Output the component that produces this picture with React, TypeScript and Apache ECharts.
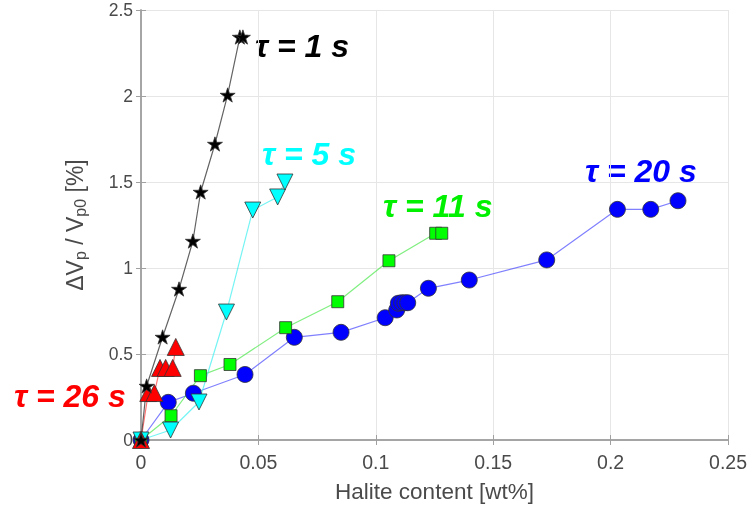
import React, { useEffect, useRef } from "react";
import * as echarts from "echarts";

// τ = 1 s (black stars)
const tau1X = [0, 0.0024, 0.0092, 0.0162, 0.0221, 0.0254, 0.0315, 0.0369, 0.0421, 0.0434];
const tau1Y = [0, 0.314, 0.599, 0.878, 1.157, 1.442, 1.721, 2.006, 2.343, 2.343];
// τ = 5 s (cyan down-triangles)
const tau5X = [0, 0.0126, 0.0247, 0.0364, 0.0476, 0.0582, 0.0613];
const tau5Y = [0, 0.058, 0.221, 0.744, 1.337, 1.413, 1.5];
// τ = 11 s (green squares)
const tau11X = [0, 0.0128, 0.0253, 0.0379, 0.0616, 0.0838, 0.1056, 0.1255, 0.1281];
const tau11Y = [0, 0.141, 0.374, 0.439, 0.653, 0.804, 1.042, 1.202, 1.202];
// τ = 20 s (blue circles)
const tau20X = [0, 0.0116, 0.0223, 0.0443, 0.0653, 0.0852, 0.104, 0.1089, 0.1096, 0.111, 0.1124, 0.1136, 0.1224, 0.1398, 0.1728, 0.2029, 0.2171, 0.2287];
const tau20Y = [0, 0.219, 0.272, 0.381, 0.597, 0.626, 0.711, 0.756, 0.795, 0.798, 0.798, 0.798, 0.882, 0.93, 1.047, 1.341, 1.341, 1.391];
// τ = 26 s (red triangles)
const tau26X = [0, 0.0031, 0.0057, 0.0081, 0.0105, 0.0135, 0.0148];
const tau26Y = [0, 0.273, 0.273, 0.419, 0.419, 0.419, 0.541];

const xTicks = [0, 0.05, 0.1, 0.15, 0.2, 0.25];
const yTicks = [0, 0.5, 1, 1.5, 2, 2.5];

const labels = [
  { text: "τ = 1 s", color: "#000000" },
  { text: "τ = 5 s", color: "#00FFFF" },
  { text: "τ = 11 s", color: "#00F000" },
  { text: "τ = 20 s", color: "#0000FF" },
  { text: "τ = 26 s", color: "#FF0000" },
];

const STAR =
  "path://M0,-10 L2.245,-3.09 L9.511,-3.09 L3.633,1.18 L5.878,8.09 L0,3.82 L-5.878,8.09 L-3.633,1.18 L-9.511,-3.09 L-2.245,-3.09 Z";

const zip = (xs: number[], ys: number[]) => xs.map((x, i) => [x, ys[i]]);

export default function App() {
  const ref = useRef<HTMLDivElement>(null);
  useEffect(() => {
    document.body.style.margin = "0";
    const chart = echarts.init(ref.current!, null, { renderer: "svg" });
    const font = "'Liberation Sans', Arial, sans-serif";
    const axisGray = "#A0A0A0";
    const mk = (
      name: string,
      xs: number[],
      ys: number[],
      symbol: string,
      size: number,
      fill: string,
      line: string,
      rotate = 0
    ) => ({
      name,
      type: "line",
      data: zip(xs, ys),
      symbol,
      symbolSize: size,
      symbolRotate: rotate,
      symbolKeepAspect: true,
      showAllSymbol: true,
      lineStyle: { color: line, width: 1.2 },
      itemStyle: { color: fill, borderColor: "#333333", borderWidth: 0.8 },
      emphasis: { disabled: true },
    });
    const lbl = (i: number, x: number, y: number) => ({
      type: "text",
      left: x,
      top: y,
      style: {
        text: labels[i].text,
        fill: labels[i].color,
        font: `italic bold 32px ${font}`,
      },
    });
    chart.setOption({
      animation: false,
      grid: { left: 141, right: 23, top: 10, bottom: 69 },
      xAxis: [
        {
          type: "value",
          min: 0,
          max: 0.25,
          interval: 0.05,
          name: "Halite content [wt%]",
          nameLocation: "middle",
          nameGap: 40,
          nameTextStyle: { fontFamily: font, fontSize: 22.5, color: "#4A4A4A" },
          axisLine: { show: true, lineStyle: { color: axisGray, width: 1.5 } },
          axisTick: { show: true, inside: true, length: 5, lineStyle: { color: axisGray } },
          axisLabel: {
            margin: 12,
            fontFamily: font,
            fontSize: 19.5,
            color: "#4A4A4A",
            formatter: (v: number) => {
              const t = xTicks.find((k) => Math.abs(k - v) < 1e-9);
              return t === undefined ? "" : String(t);
            },
          },
          splitLine: { show: true, lineStyle: { color: "#E6E6E6", width: 1 } },
        },
        {
          type: "value",
          position: "top",
          min: 0,
          max: 0.25,
          interval: 0.05,
          axisLine: { show: true, lineStyle: { color: axisGray, width: 1.5 } },
          axisTick: { show: true, inside: true, length: 5, lineStyle: { color: axisGray } },
          axisLabel: { show: false },
          splitLine: { show: false },
        },
      ],
      yAxis: [
        {
          type: "value",
          min: 0,
          max: 2.5,
          interval: 0.5,
          name: "{m|ΔV}{s|p}{m| / V}{s|p0}{m| [%]}",
          nameLocation: "middle",
          nameGap: 53,
          nameRotate: 90,
          nameTextStyle: {
            lineHeight: 31,
            rich: {
              m: { fontFamily: font, fontSize: 23, color: "#4A4A4A", lineHeight: 25, verticalAlign: "top" },
              s: { fontFamily: font, fontSize: 16, color: "#4A4A4A", lineHeight: 16, verticalAlign: "bottom" },
            },
          },
          axisLine: { show: true, lineStyle: { color: axisGray, width: 1.5 } },
          axisTick: { show: true, inside: true, length: 5, lineStyle: { color: axisGray } },
          axisLabel: {
            margin: 8,
            fontFamily: font,
            fontSize: 17.5,
            color: "#4A4A4A",
            formatter: (v: number) => {
              const t = yTicks.find((k) => Math.abs(k - v) < 1e-9);
              return t === undefined ? "" : String(t);
            },
          },
          splitLine: { show: true, lineStyle: { color: "#E6E6E6", width: 1 } },
        },
        {
          type: "value",
          position: "right",
          min: 0,
          max: 2.5,
          interval: 0.5,
          axisLine: { show: true, lineStyle: { color: axisGray, width: 1.5 } },
          axisTick: { show: true, inside: true, length: 5, lineStyle: { color: axisGray } },
          axisLabel: { show: false },
          splitLine: { show: false },
        },
      ],
      series: [
        mk("τ = 20 s", tau20X, tau20Y, "circle", 16, "#0000FF", "rgba(60,60,255,0.65)"),
        mk("τ = 11 s", tau11X, tau11Y, "rect", 12, "#00FF00", "rgba(60,230,60,0.65)"),
        mk("τ = 5 s", tau5X, tau5Y, "triangle", 16, "#00FFFF", "rgba(60,240,240,0.7)", 180),
        mk("τ = 26 s", tau26X, tau26Y, "triangle", 17, "#FF0000", "rgba(255,60,60,0.7)"),
        mk("τ = 1 s", tau1X, tau1Y, STAR, 15, "#000000", "rgba(60,60,60,0.8)"),
      ],
      graphic: [
        lbl(0, 255, 30),
        lbl(1, 262, 138),
        lbl(2, 383, 190),
        lbl(3, 585, 155),
        lbl(4, 14, 380),
      ],
    });
    return () => chart.dispose();
  }, []);
  return (
    <div
      ref={ref}
      style={{ position: "fixed", left: 0, top: 0, width: 751, height: 509 }}
    />
  );
}
